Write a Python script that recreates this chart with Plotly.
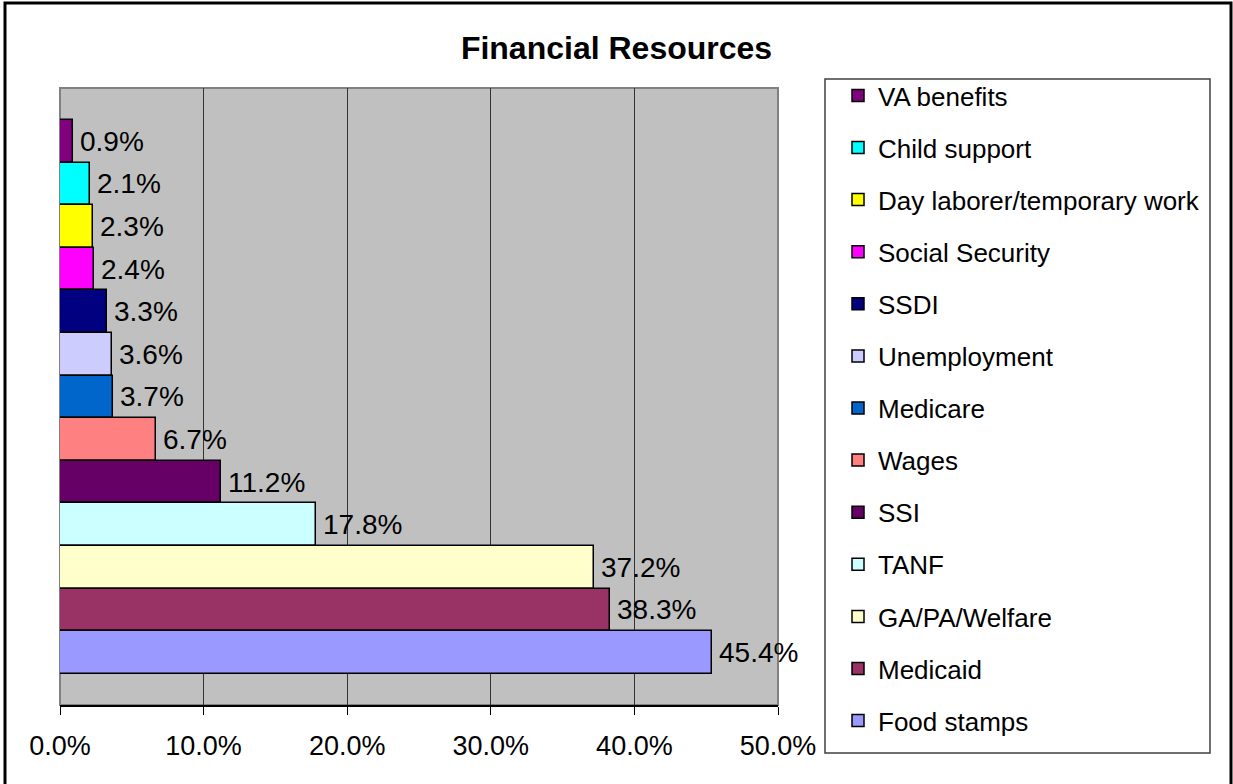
import plotly.graph_objects as go

# Sources of financial support, listed top to bottom as in the legend
resources = [
    "VA benefits", "Child support", "Day laborer/temporary work",
    "Social Security", "SSDI", "Unemployment", "Medicare", "Wages",
    "SSI", "TANF", "GA/PA/Welfare", "Medicaid", "Food stamps",
]
shares = [0.9, 2.1, 2.3, 2.4, 3.3, 3.6, 3.7, 6.7, 11.2, 17.8, 37.2, 38.3, 45.4]  # percent
colors = [
    "#800080", "#00FFFF", "#FFFF00", "#FF00FF", "#000080", "#CCCCFF",
    "#0066CC", "#FF8080", "#660066", "#CCFFFF", "#FFFFCC", "#993366", "#9999FF",
]
x_ticks = [0, 10, 20, 30, 40, 50]

FONT = "Liberation Sans, Arial, sans-serif"
W, H = 1233, 784
L, R, T, B = 60, 455, 88, 79
PW, PH = W - L - R, H - T - B


def px_x(p):
    return (p - L) / PW


def px_y(p):
    return (H - B - p) / PH


fig = go.Figure()
for name, val, col in zip(resources, shares, colors):
    fig.add_trace(go.Bar(
        y=[name], x=[val / 100], orientation="h", name=name,
        legendgroup=name,
        marker=dict(color=col, line=dict(color="black", width=1.5)),
        width=1,
    ))
    fig.add_annotation(
        x=val / 100, y=name, text=f"{val:.1f}%", showarrow=False,
        xanchor="left", yanchor="middle", xshift=5,
        font=dict(family=FONT, size=28, color="black"),
    )

# plot-area frame, legend frame and outer chart frame
fig.add_shape(type="rect", xref="paper", yref="paper", x0=0, x1=1, y0=0, y1=1,
              line=dict(color="#808080", width=2), layer="below")
fig.add_shape(type="rect", xref="paper", yref="paper",
              x0=px_x(825), x1=px_x(1210), y0=px_y(753), y1=px_y(79),
              line=dict(color="#404040", width=1.5))
fig.add_shape(type="rect", xref="paper", yref="paper",
              x0=px_x(5), x1=px_x(1231), y0=px_y(800), y1=px_y(3),
              line=dict(color="black", width=3))

fig.update_layout(
    width=W, height=H,
    margin=dict(l=L, r=R, t=T, b=B),
    paper_bgcolor="white", plot_bgcolor="#C0C0C0",
    bargap=0, barmode="overlay",
    font=dict(family=FONT, color="black"),
    title=dict(text="<b>Financial Resources</b>", x=0.5, xanchor="center",
               xref="container", y=1 - 48 / H, yanchor="middle", yref="container",
               font=dict(family=FONT, size=32, color="black")),
    xaxis=dict(
        range=[0, 0.5], tickvals=[v / 100 for v in x_ticks], tickformat=".1%",
        showgrid=True, gridcolor="#333333", gridwidth=1, zeroline=False,
        showline=True, linecolor="black", linewidth=1.5,
        ticks="outside", ticklen=8, tickcolor="black", tickwidth=1,
        ticklabelstandoff=8,
        tickfont=dict(family=FONT, size=27, color="black"),
    ),
    yaxis=dict(
        type="category", categoryorder="array", categoryarray=resources[::-1],
        range=[-1.23, 13.25], showticklabels=False, showgrid=False,
        zeroline=False, showline=False, ticks="",
    ),
    legend=dict(
        xref="container", yref="container", x=838 / W, y=1 - 72 / H,
        xanchor="left", yanchor="top", traceorder="grouped",
        tracegroupgap=15.3, bgcolor="rgba(0,0,0,0)", borderwidth=0,
        maxheight=760,
        font=dict(family=FONT, size=26, color="black"),
    ),
    showlegend=True,
)

fig.write_html("out.html")
